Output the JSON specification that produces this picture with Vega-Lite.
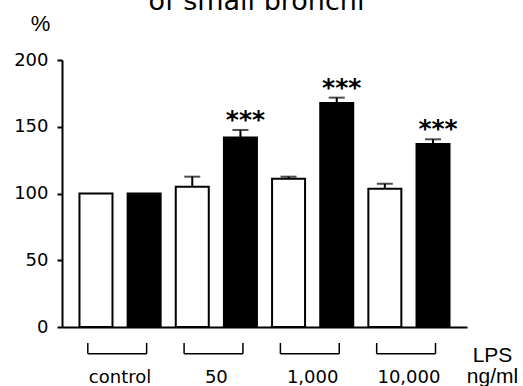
{
  "$schema": "https://vega.github.io/schema/vega-lite/v6.json",
  "width": 405,
  "height": 267,
  "autosize": {"type": "none"},
  "padding": {"left": 62, "top": 60, "right": 56, "bottom": 59},
  "background": "white",
  "config": {"view": {"stroke": null}},
  "title": {
    "text": "of small bronchi",
    "font": "DejaVu Sans",
    "fontSize": 27,
    "fontWeight": "normal",
    "color": "black",
    "anchor": "middle",
    "frame": "group",
    "baseline": "alphabetic",
    "offset": -25,
    "dx": -8
  },
  "data": {
    "values": [
      {"group": "control", "series": "open", "value": 100, "upper": 100, "sig": ""},
      {"group": "control", "series": "filled", "value": 100, "upper": 100, "sig": ""},
      {"group": "50", "series": "open", "value": 105, "upper": 112.6, "sig": ""},
      {"group": "50", "series": "filled", "value": 142, "upper": 147.6, "sig": "***"},
      {"group": "1,000", "series": "open", "value": 111, "upper": 112.6, "sig": ""},
      {"group": "1,000", "series": "filled", "value": 167.8, "upper": 171.8, "sig": "***"},
      {"group": "10,000", "series": "open", "value": 103.6, "upper": 107.3, "sig": ""},
      {"group": "10,000", "series": "filled", "value": 137, "upper": 140.6, "sig": "***"}
    ]
  },
  "layer": [
    {
      "mark": {"type": "bar", "stroke": "black", "strokeWidth": 2},
      "encoding": {
        "x": {
          "field": "group",
          "type": "nominal",
          "sort": ["control", "50", "1,000", "10,000"],
          "scale": {"paddingInner": 0, "paddingOuter": 0.103},
          "axis": {
            "title": ["LPS", "ng/ml"],
            "titleX": 430,
            "titleY": 34,
            "titleAlign": "center",
            "titleBaseline": "alphabetic",
            "titleFont": "Liberation Sans",
            "titleFontSize": 21,
            "titleFontWeight": "normal",
            "titleLineHeight": 21,
            "titleColor": "black",
            "labelAngle": 0,
            "labelFont": "DejaVu Sans",
            "labelFontSize": 18,
            "labelBaseline": "alphabetic",
            "labelPadding": 55,
            "labelColor": "black",
            "ticks": false,
            "domainColor": "black",
            "domainWidth": 2
          }
        },
        "xOffset": {
          "field": "series",
          "type": "nominal",
          "sort": ["open", "filled"],
          "scale": {"paddingInner": 0.315, "paddingOuter": 0.157}
        },
        "y": {
          "field": "value",
          "type": "quantitative",
          "scale": {"domain": [0, 200], "nice": false},
          "axis": {
            "values": [0, 50, 100, 150, 200],
            "title": "%",
            "titleAngle": 0,
            "titleX": -22,
            "titleY": -37,
            "titleAlign": "center",
            "titleBaseline": "middle",
            "titleFont": "Liberation Sans",
            "titleFontSize": 22,
            "titleFontWeight": "normal",
            "titleColor": "black",
            "labelFont": "DejaVu Sans",
            "labelFontSize": 18,
            "labelColor": "black",
            "labelPadding": 9,
            "labelFlush": false,
            "labelOverlap": false,
            "tickSize": 5,
            "tickWidth": 2,
            "tickColor": "black",
            "domainColor": "black",
            "domainWidth": 2,
            "grid": false
          }
        },
        "fill": {
          "field": "series",
          "type": "nominal",
          "scale": {"domain": ["open", "filled"], "range": ["white", "black"]},
          "legend": null
        }
      }
    },
    {
      "transform": [{"filter": "datum.upper > datum.value"}],
      "mark": {"type": "rule", "strokeWidth": 2, "color": "black"},
      "encoding": {
        "x": {"field": "group", "type": "nominal", "sort": ["control", "50", "1,000", "10,000"]},
        "xOffset": {"field": "series", "type": "nominal", "sort": ["open", "filled"]},
        "y": {"field": "value", "type": "quantitative"},
        "y2": {"field": "upper"}
      }
    },
    {
      "transform": [{"filter": "datum.upper > datum.value"}],
      "mark": {"type": "tick", "orient": "horizontal", "size": 16, "thickness": 2, "color": "black"},
      "encoding": {
        "x": {"field": "group", "type": "nominal", "sort": ["control", "50", "1,000", "10,000"]},
        "xOffset": {"field": "series", "type": "nominal", "sort": ["open", "filled"]},
        "y": {"field": "upper", "type": "quantitative"}
      }
    },
    {
      "transform": [{"filter": "datum.sig != ''"}],
      "mark": {"type": "text", "font": "DejaVu Sans", "fontSize": 25, "fontWeight": "bold", "baseline": "alphabetic", "align": "center", "dy": -2, "dx": 5, "color": "black"},
      "encoding": {
        "x": {"field": "group", "type": "nominal", "sort": ["control", "50", "1,000", "10,000"]},
        "xOffset": {"field": "series", "type": "nominal", "sort": ["open", "filled"]},
        "y": {"field": "upper", "type": "quantitative"},
        "text": {"field": "sig"}
      }
    },
    {
      "transform": [{"filter": "datum.series == 'open'"}],
      "mark": {"type": "rule", "strokeWidth": 1.5, "color": "black"},
      "encoding": {
        "x": {"field": "group", "type": "nominal", "sort": ["control", "50", "1,000", "10,000"], "bandPosition": 0.165},
        "x2": {"field": "group", "bandPosition": 0.776},
        "y": {"datum": -20}
      }
    },
    {
      "transform": [{"filter": "datum.series == 'open'"}],
      "mark": {"type": "rule", "strokeWidth": 1.5, "color": "black"},
      "encoding": {
        "x": {"field": "group", "type": "nominal", "sort": ["control", "50", "1,000", "10,000"], "bandPosition": 0.165},
        "y": {"datum": -12},
        "y2": {"datum": -20}
      }
    },
    {
      "transform": [{"filter": "datum.series == 'open'"}],
      "mark": {"type": "rule", "strokeWidth": 1.5, "color": "black"},
      "encoding": {
        "x": {"field": "group", "type": "nominal", "sort": ["control", "50", "1,000", "10,000"], "bandPosition": 0.776},
        "y": {"datum": -12},
        "y2": {"datum": -20}
      }
    }
  ]
}
